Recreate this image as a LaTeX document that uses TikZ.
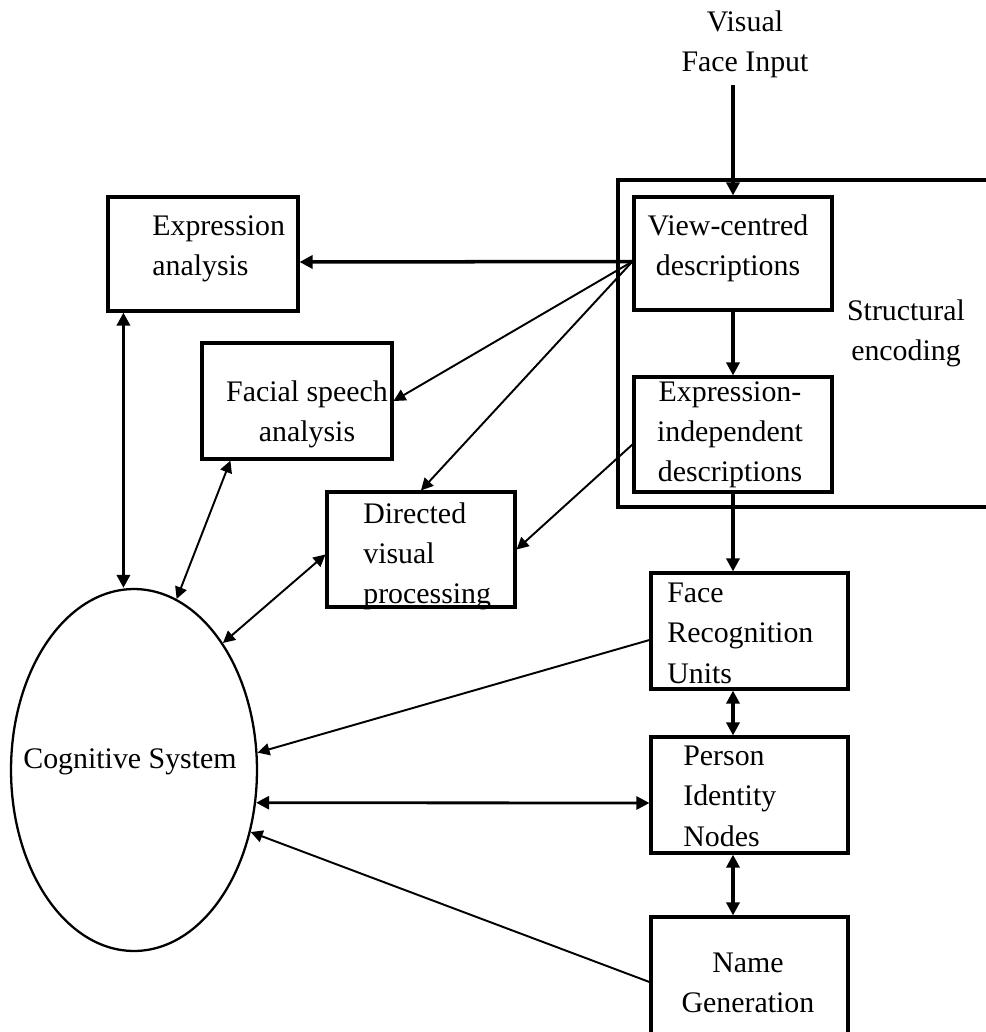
\documentclass[tikz,border=0pt]{standalone}
\usepackage{fontspec}
\setmainfont{Liberation Serif}
\usetikzlibrary{arrows.meta, shapes.geometric}
\tikzset{unit/.style = {rectangle,draw,line width=1.8pt,inner sep=0pt},
         lbl/.style = {inner sep=0pt,font=\fontsize{17}{22.8}\selectfont},
         fat/.style = {line width=2pt,-{Triangle[length=2.6mm,width=2.6mm]}},
         fatboth/.style = {line width=2pt,{Triangle[length=2.6mm,width=2.6mm]}-{Triangle[length=2.6mm,width=2.6mm]}},
         slim/.style = {line width=1.1pt,-{Triangle[length=2.4mm,width=2.4mm]}},
         slimboth/.style = {line width=1.1pt,{Triangle[length=2.4mm,width=2.4mm]}-{Triangle[length=2.4mm,width=2.4mm]}}}

\begin{document}
\begin{tikzpicture}[x=0.02cm,y=-0.02cm]
        \useasboundingbox (0,0) rectangle (985,1032);
        % boxes
        \node [unit,minimum width=7.64cm,minimum height=6.54cm] (enc) at (809,343.5) {};
        \node [unit,minimum width=3.96cm,minimum height=2.26cm] (vc) at (733,253.5) {};
        \node [unit,minimum width=3.96cm,minimum height=2.3cm] (ei) at (733,434.5) {};
        \node [unit,minimum width=3.8cm,minimum height=2.28cm] (exp) at (203,254) {};
        \node [unit,minimum width=3.8cm,minimum height=2.32cm] (fsa) at (297,401) {};
        \node [unit,minimum width=3.76cm,minimum height=2.3cm] (dvp) at (421,549.5) {};
        \node [unit,minimum width=3.94cm,minimum height=2.32cm] (fru) at (749.5,631) {};
        \node [unit,minimum width=3.94cm,minimum height=2.32cm] (pin) at (749.5,795) {};
        \node [unit,minimum width=3.94cm,minimum height=2.6cm] (name) at (749.5,982) {};
        \node [ellipse,draw,line width=1.3pt,minimum width=4.92cm,minimum height=7.24cm] (cog) at (134,770) {};

        % texts
        \node [lbl,anchor=north,align=center] (vis) at (745,10) {Visual\\Face Input};
        \node [lbl,anchor=north,align=center] (vcT) at (728,214) {View-centred\\descriptions};
        \node [lbl,anchor=north,align=center] (eiT) at (730,381) {Expression-\\independent\\descriptions};
        \node [lbl,anchor=north,align=center] (encT) at (906,299) {Structural\\encoding};
        \node [lbl,anchor=north west,align=left] (expT) at (152,215) {Expression\\analysis};
        \node [lbl,anchor=north,align=center] (fsaT) at (307,380) {Facial speech\\analysis};
        \node [lbl,anchor=north west,align=left] (dvpT) at (363,502) {Directed\\visual\\processing};
        \node [lbl,anchor=north west,align=left] (fruT) at (667,583) {Face\\Recognition\\Units};
        \node [lbl,anchor=north west,align=left] (pinT) at (683,746) {Person\\Identity\\Nodes};
        \node [lbl,anchor=north,align=center] (nameT) at (748,953) {Name\\Generation};
        \node [lbl,anchor=north] (cogT) at (130,748) {Cognitive System};

        % connectors
        \draw [fat,shorten <=0.15cm] (vis.south -| vc.north) -- (vc.north);
        \draw [fat] (vc) -- (ei);
        \draw [fat] (ei.south) -- (ei.south |- fru.north);
        \draw [fatboth] (ei.south |- fru.south) -- (ei.south |- pin.north);
        \draw [fatboth] (ei.south |- pin.south) -- (ei.south |- name.north);
        \draw [fat] ([yshift=-0.16cm]vc.west) -- ([yshift=-0.16cm]exp.east);
        \draw [slim] ([yshift=-0.16cm]vc.west) -- (fsa.east);
        \draw [slim] ([yshift=-0.16cm]vc.west) -- (dvp.north);
        \draw [slim] ([yshift=-0.2cm]ei.west) -- (dvp.east);
        \draw [fatboth] ([xshift=0.34cm]exp.south west) -- ([xshift=0.34cm]exp.south west |- cog.north);
        \draw [slimboth] ([xshift=0.6cm]fsa.south west) -- (cog.76);
        \draw [slimboth] ([yshift=-0.1cm]dvp.west) -- (cog.55);
        \draw [slim] ([yshift=-0.18cm]fru.west) -- (cog.8);
        \draw [fatboth,line width=1.6pt] (cog.-15) -- ([yshift=-0.16cm]pin.west);
        \draw [slim] (name.west) -- (cog.-28);
\end{tikzpicture}
\end{document}
